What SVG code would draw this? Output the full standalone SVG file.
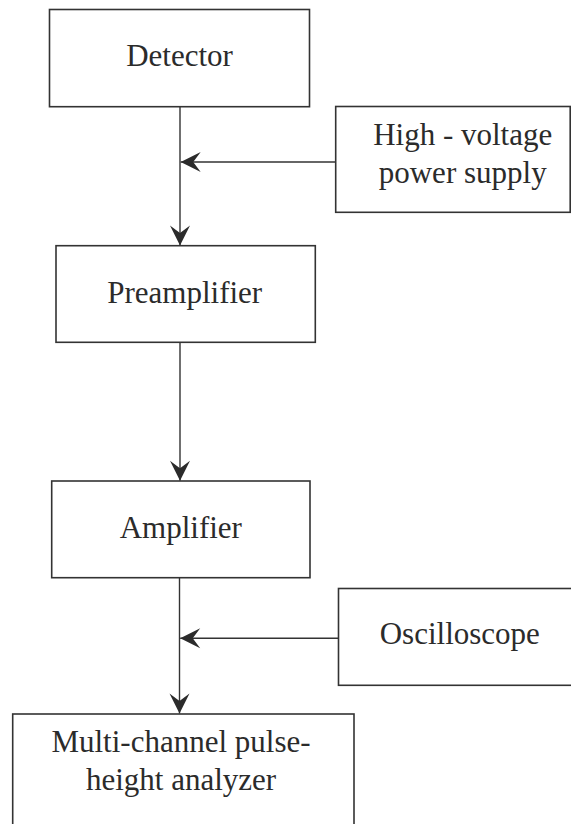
<svg xmlns="http://www.w3.org/2000/svg" width="571" height="824" viewBox="0 0 571 824">
<style>
.box{fill:none;stroke:#333;stroke-width:1.6}
.lbl{font-family:"Liberation Serif","Times New Roman",serif;font-size:31px;fill:#2b2b2b;text-anchor:middle}
.con{fill:none;stroke:#333;stroke-width:1.4}
</style>
<defs>
<marker id="ah" markerUnits="userSpaceOnUse" markerWidth="24" markerHeight="24" viewBox="-22 -12 24 24" refX="0" refY="0" orient="auto">
<path d="M0,0 L-20,-10 L-12.5,0 L-20,10 Z" fill="#2b2b2b"/>
</marker>
</defs>
<rect width="571" height="824" fill="#fff"/>
<g id="connectors">
<path class="con" d="M180,106.7 V245.5" marker-end="url(#ah)"/>
<path class="con" d="M335.7,162 H180.7" marker-end="url(#ah)"/>
<path class="con" d="M180,342.3 V480.8" marker-end="url(#ah)"/>
<path class="con" d="M179.5,577.7 V713.6" marker-end="url(#ah)"/>
<path class="con" d="M338.5,638.3 H180.2" marker-end="url(#ah)"/>
</g>
<g id="detector">
<rect class="box" x="49.5" y="9.5" width="260" height="97.2"/>
<text class="lbl" x="179.5" y="65.7">Detector</text>
</g>
<g id="hv-supply">
<rect class="box" x="335.7" y="106.5" width="234.5" height="105.8"/>
<text class="lbl" x="462.7" y="145">High - voltage</text>
<text class="lbl" x="462.7" y="183.3">power supply</text>
</g>
<g id="preamplifier">
<rect class="box" x="56" y="245.7" width="259.3" height="96.6"/>
<text class="lbl" x="184.7" y="302.7">Preamplifier</text>
</g>
<g id="amplifier">
<rect class="box" x="51.7" y="481" width="258.3" height="96.7"/>
<text class="lbl" x="180.8" y="538.3">Amplifier</text>
</g>
<g id="oscilloscope">
<rect class="box" x="338.5" y="588.5" width="240" height="96.8"/>
<text class="lbl" x="459.8" y="644">Oscilloscope</text>
</g>
<g id="mca">
<rect class="box" x="12.7" y="714" width="341.3" height="120"/>
<text class="lbl" x="181" y="751.5">Multi-channel pulse-</text>
<text class="lbl" x="181" y="790">height analyzer</text>
</g>
</svg>
